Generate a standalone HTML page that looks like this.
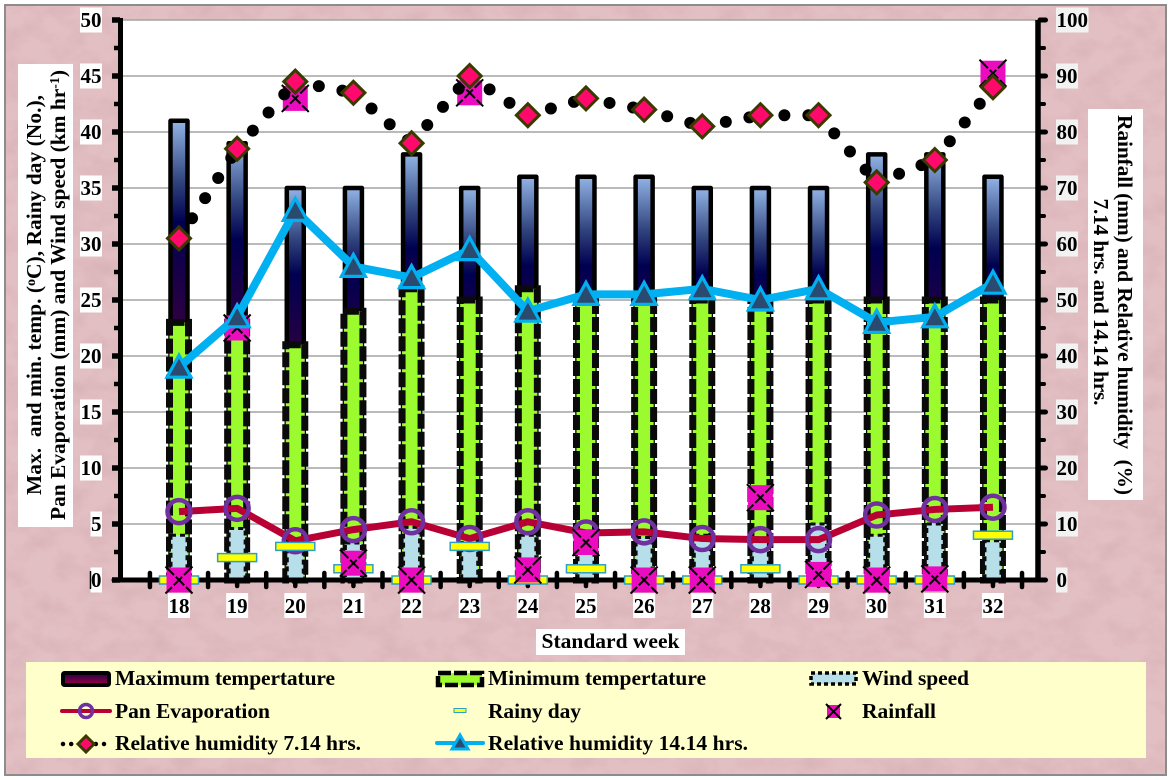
<!DOCTYPE html>
<html lang="en">
<head>
<meta charset="utf-8">
<title>Weather parameters by standard week</title>
<style>
html,body{margin:0;padding:0;background:#fff;}
svg{display:block;}
text{font-family:"Liberation Serif",serif;font-weight:bold;fill:#000;}
</style>
</head>
<body>
<svg id="chart" xmlns="http://www.w3.org/2000/svg" width="1170" height="780" viewBox="0 0 1170 780">
  <defs>
    <filter id="paper" x="0" y="0" width="100%" height="100%">
      <feTurbulence type="fractalNoise" baseFrequency="0.035 0.05" numOctaves="5" seed="7"/>
      <feColorMatrix type="matrix" values="0 0 0 0 0.66  0 0 0 0 0.42  0 0 0 0 0.45  1.3 0 0 0 -0.5"/>
    </filter>
    <linearGradient id="maxGrad" x1="0" y1="0" x2="0" y2="1">
      <stop offset="0" stop-color="#92b4e6"/>
      <stop offset="0.13" stop-color="#32457f"/>
      <stop offset="0.22" stop-color="#000050"/>
      <stop offset="0.45" stop-color="#300040"/>
      <stop offset="1" stop-color="#a00030"/>
    </linearGradient>
    <linearGradient id="legendMaxGrad" x1="0" y1="0" x2="0" y2="1">
      <stop offset="0" stop-color="#20004a"/>
      <stop offset="1" stop-color="#a00040"/>
    </linearGradient>
  </defs>

  <rect x="5" y="5" width="1161" height="770" fill="#e2bfc3" stroke="#8c8c8c" stroke-width="2"/>
  <rect x="6" y="6" width="1159" height="768" filter="url(#paper)"/>
  <rect x="121" y="20" width="915" height="560" fill="#fff"/>

  <g id="grid"></g>
  <g id="bars"></g>
  <g id="axes"></g>
  <g id="marks"></g>
  <g id="labels"></g>

  <g>
    <rect x="18" y="64" width="55" height="463" fill="#fff"/>
    <text transform="translate(41,295) rotate(-90)" text-anchor="middle" font-size="21.5" textLength="400" lengthAdjust="spacing" xml:space="preserve">Max.  and min. temp. (<tspan font-size="14" dy="-6">o</tspan><tspan dy="6">C), Rainy day (No.),</tspan></text>
    <text transform="translate(65,295) rotate(-90)" text-anchor="middle" font-size="21.5" textLength="450" lengthAdjust="spacing">Pan Evaporation (mm) and Wind speed (km hr<tspan font-size="14" dy="-6">-1</tspan><tspan dy="6">)</tspan></text>
  </g>
  <g>
    <rect x="1088" y="109" width="55" height="391" fill="#fff"/>
    <text transform="translate(1118,305) rotate(90)" text-anchor="middle" font-size="21.5" textLength="380" lengthAdjust="spacing" xml:space="preserve">Rainfall (mm) and Relative humidity  (%)</text>
    <text transform="translate(1094,302) rotate(90)" text-anchor="middle" font-size="21.5" textLength="207" lengthAdjust="spacing">7.14 hrs. and 14.14 hrs.</text>
  </g>

  <g>
    <rect x="536" y="629" width="149" height="26" fill="#fff"/>
    <text x="610.5" y="648" text-anchor="middle" font-size="21.5">Standard week</text>
  </g>

  <g>
    <rect x="26" y="662" width="1120" height="96" fill="#ffffcc"/>

    <g>
      <rect x="63" y="673" width="46" height="12" rx="1.5" fill="url(#legendMaxGrad)" stroke="#000" stroke-width="4"/>
      <text x="115" y="685" font-size="21.5" textLength="220" lengthAdjust="spacing">Maximum tempertature</text>
    </g>
    <g>
      <rect x="438" y="673" width="44" height="12" fill="#9bfb2f" stroke="#000" stroke-width="4.5" stroke-dasharray="13 3"/>
      <text x="488" y="685" font-size="21.5" textLength="218" lengthAdjust="spacing">Minimum tempertature</text>
    </g>
    <g>
      <rect x="811" y="673" width="45" height="11" fill="#b7dfea" stroke="#000" stroke-width="3.5" stroke-dasharray="4 3"/>
      <text x="862" y="685" font-size="21.5" textLength="107" lengthAdjust="spacing">Wind speed</text>
    </g>

    <g>
      <line x1="62" y1="711" x2="110" y2="711" stroke="#b80035" stroke-width="4" stroke-linecap="round"/>
      <circle cx="86" cy="711" r="6.5" fill="none" stroke="#7030a0" stroke-width="3.5"/>
      <text x="115" y="718" font-size="21.5" textLength="155" lengthAdjust="spacing">Pan Evaporation</text>
    </g>
    <g>
      <rect x="454" y="708.5" width="12" height="4" fill="#ffff00" stroke="#2aa0c8" stroke-width="1"/>
      <text x="488" y="718" font-size="21.5" textLength="93" lengthAdjust="spacing">Rainy day</text>
    </g>
    <g>
      <rect x="827" y="705" width="13" height="13" fill="#ec0cc0"/>
      <path d="M826 704L841 719M841 704L826 719" stroke="#000" stroke-width="2"/>
      <text x="862" y="718" font-size="21.5" textLength="74" lengthAdjust="spacing">Rainfall</text>
    </g>

    <g>
      <line x1="63" y1="744" x2="109" y2="744" stroke="#000" stroke-width="4.5" stroke-linecap="round" stroke-dasharray="0 8.2"/>
      <polygon points="86,736 94,744 86,752 78,744" fill="#ff0a6c" stroke="#3a3a00" stroke-width="3"/>
      <text x="115" y="750" font-size="21.5" textLength="246" lengthAdjust="spacing">Relative humidity 7.14 hrs.</text>
    </g>
    <g>
      <line x1="437" y1="743" x2="483" y2="743" stroke="#00b0f0" stroke-width="4" stroke-linecap="round"/>
      <polygon points="460,735 468,749 452,749" fill="#2a4a70" stroke="#00b0f0" stroke-width="3"/>
      <text x="488" y="750" font-size="21.5" textLength="260" lengthAdjust="spacing">Relative humidity 14.14 hrs.</text>
    </g>
  </g>
</svg>

<script>
const weeks = [18, 19, 20, 21, 22, 23, 24, 25, 26, 27, 28, 29, 30, 31, 32];
const maxTemp = [41, 39, 35, 35, 38, 35, 36, 36, 36, 35, 35, 35, 38, 38, 36];
const minTemp = [23, 23, 21, 24, 26, 25, 26, 25, 25, 25, 25, 25, 25, 25, 25];
const windSpeed = [4, 4.6, 2.8, 3.3, 4.7, 2.7, 4, 3.5, 3.8, 4, 3.5, 5, 4, 5, 3.5];
const panEvaporation = [6.1, 6.4, 3.5, 4.5, 5.2, 3.7, 5.2, 4.2, 4.3, 3.7, 3.6, 3.6, 5.8, 6.3, 6.5];
const rainyDay = [0, 2, 3, 1, 0, 3, 0, 1, 0, 0, 1, 0, 0, 0, 4];
const rainfall = [0, 45, 86, 3, 0, 87, 1.8, 6.7, 0, 0, 14.7, 1, 0, 0.2, 90.5];
const humidityMorning = [61, 77, 89, 87, 78, 90, 83, 86, 84, 81, 83, 83, 71, 75, 88];
const humidityAfternoon = [38, 47, 66, 56, 54, 59, 48, 51, 51, 52, 50, 52, 46, 47, 53];
const leftTicks = [0, 5, 10, 15, 20, 25, 30, 35, 40, 45, 50];
const rightTicks = [0, 10, 20, 30, 40, 50, 60, 70, 80, 90, 100];

const NS = 'http://www.w3.org/2000/svg';
const plotBottom = 580;
const plotTop = 20;
const firstX = 179;
const stepX = 58.14;
const xScale = i => firstX + stepX * i;
const yLeft = v => plotBottom - (plotBottom - plotTop) * v / 50;
const yRight = v => plotBottom - (plotBottom - plotTop) * v / 100;

function make(tag, attrs, parent) {
  const node = document.createElementNS(NS, tag);
  for (const k in attrs) node.setAttribute(k, attrs[k]);
  parent.appendChild(node);
  return node;
}

const gGrid = document.getElementById('grid');
const gBars = document.getElementById('bars');
const gAxes = document.getElementById('axes');
const gMarks = document.getElementById('marks');
const gLabels = document.getElementById('labels');

/* gridlines */
leftTicks.forEach(t => {
  if (t === 0) return;
  const g = make('line', {x1: 121, x2: 1036, y1: yLeft(t), y2: yLeft(t), stroke: '#a3a3a3', 'stroke-width': 1.5}, gGrid);
  
  
});

/* bars */
function barRect(value, halfWidth, attrs, name) {
  return function (i) {
    const x = xScale(i);
    const a = Object.assign({x: x - halfWidth, y: yLeft(value[i]), width: halfWidth * 2, height: plotBottom - yLeft(value[i])}, attrs);
    const r = make('rect', a, gBars);
    
    
  };
}
const drawMax = barRect(maxTemp, 8.5, {fill: 'url(#maxGrad)', stroke: '#000', 'stroke-width': 4.5, 'stroke-linejoin': 'round'}, 'bar-max-temp');
const drawMin = barRect(minTemp, 9.5, {fill: '#9bfb2f', stroke: '#0a0a0a', 'stroke-width': 7, 'stroke-dasharray': '15 3'}, 'bar-min-temp');
const drawWind = barRect(windSpeed, 8, {fill: '#b7dfea', stroke: '#0a0a0a', 'stroke-width': 3, 'stroke-dasharray': '5 4'}, 'bar-wind-speed');
weeks.forEach((w, i) => drawMax(i));
weeks.forEach((w, i) => drawMin(i));
weeks.forEach((w, i) => drawWind(i));

/* axes */
const axisLeft = make('line', {x1: 120.5, x2: 120.5, y1: plotTop - 2, y2: plotBottom + 2, stroke: '#000', 'stroke-width': 5}, gAxes);


const axisRight = make('line', {x1: 1038, x2: 1038, y1: plotTop, y2: plotBottom + 2, stroke: '#000', 'stroke-width': 5.5}, gAxes);


const axisBottom = make('line', {x1: 114, x2: 1045, y1: plotBottom, y2: plotBottom, stroke: '#000', 'stroke-width': 5, 'stroke-linecap': 'round'}, gAxes);



for (let k = 0; k <= 20; k++) {
  const y = plotBottom - (plotBottom - plotTop) * k / 20;
  const major = k % 2 === 0;
  const tl = make('line', {x1: major ? 112 : 114, x2: 120, y1: y, y2: y, stroke: '#000', 'stroke-width': major ? 5.5 : 4.5}, gAxes);
  
  
  const tr = make('line', {x1: 1040, x2: major ? 1045.5 : 1044, y1: y, y2: y, stroke: '#000', 'stroke-width': major ? 5 : 4, 'stroke-linecap': 'round'}, gAxes);
  
  
}
for (let i = 0; i <= weeks.length; i++) {
  const edge = xScale(i) - stepX / 2;
  const t = make('line', {x1: edge, x2: edge, y1: 573, y2: 587, stroke: '#000', 'stroke-width': 4.5, 'stroke-linecap': 'round'}, gAxes);
  
  
}
weeks.forEach((w, i) => {
  const t = make('line', {x1: xScale(i), x2: xScale(i), y1: 580, y2: 586, stroke: '#000', 'stroke-width': 4.5, 'stroke-linecap': 'round'}, gAxes);
  
  
});

/* pan evaporation */
const panPoints = panEvaporation.map((v, i) => xScale(i) + ',' + yLeft(v)).join(' ');
const panLine = make('polyline', {points: panPoints, fill: 'none', stroke: '#b80035', 'stroke-width': 7, 'stroke-linejoin': 'round'}, gMarks);


panEvaporation.forEach((v, i) => {
  const c = make('circle', {cx: xScale(i), cy: yLeft(v), r: 11.5, fill: 'none', stroke: '#7030a0', 'stroke-width': 4.5}, gMarks);
  
  
});

/* rainy days */
rainyDay.forEach((v, i) => {
  const r = make('rect', {x: xScale(i) - 19.5, y: yLeft(v) - 4, width: 39, height: 8, fill: '#ffff00', stroke: '#2aa0c8', 'stroke-width': 1.5}, gMarks);
  
  
});

/* rainfall */
rainfall.forEach((v, i) => {
  const x = xScale(i), y = yRight(v), h = 12.5;
  const r = make('rect', {x: x - h, y: y - h, width: h * 2, height: h * 2, fill: '#ec0cc0'}, gMarks);
  
  
  const d = 'M' + (x - h - 1) + ' ' + (y - h - 1) + 'L' + (x + h + 1) + ' ' + (y + h + 1) +
            'M' + (x + h + 1) + ' ' + (y - h - 1) + 'L' + (x - h - 1) + ' ' + (y + h + 1);
  const cross = make('path', {d: d, stroke: '#000', 'stroke-width': 2, 'stroke-dasharray': '12 2.5', fill: 'none'}, gMarks);
  
  
});

/* relative humidity 7.14: the dot pattern restarts at every point */
humidityMorning.forEach((v, i) => {
  if (i === 0) return;
  const seg = make('line', {x1: xScale(i - 1), y1: yRight(humidityMorning[i - 1]), x2: xScale(i), y2: yRight(v), stroke: '#000', 'stroke-width': 12, 'stroke-linecap': 'round', 'stroke-dasharray': '0 24'}, gMarks);
  
  
});
humidityMorning.forEach((v, i) => {
  const x = xScale(i), y = yRight(v), h = 11.5;
  const pts = x + ',' + (y - h) + ' ' + (x + h) + ',' + y + ' ' + x + ',' + (y + h) + ' ' + (x - h) + ',' + y;
  const p = make('polygon', {points: pts, fill: '#ff0a6c', stroke: '#3a3a00', 'stroke-width': 3}, gMarks);
  
  
});

/* relative humidity 14.14 */
const afternoonPoints = humidityAfternoon.map((v, i) => xScale(i) + ',' + yRight(v)).join(' ');
const afternoonLine = make('polyline', {points: afternoonPoints, fill: 'none', stroke: '#00b0f0', 'stroke-width': 8, 'stroke-linejoin': 'round'}, gMarks);


humidityAfternoon.forEach((v, i) => {
  const x = xScale(i), y = yRight(v);
  const pts = x + ',' + (y - 12) + ' ' + (x + 12) + ',' + (y + 10) + ' ' + (x - 12) + ',' + (y + 10);
  const p = make('polygon', {points: pts, fill: '#2a4a70', stroke: '#00b0f0', 'stroke-width': 3.2}, gMarks);
  
  
});

/* tick labels */
leftTicks.forEach(t => {
  const s = String(t);
  const w = s.length * 10.5 + 1;
  const bg = make('rect', {x: 102 - w, y: yLeft(t) - 12.5, width: w, height: 25, fill: '#fff'}, gLabels);
  
  
  const tx = make('text', {x: 101.5, y: yLeft(t) + 7, 'text-anchor': 'end', 'font-size': 21}, gLabels);
  
  
  tx.textContent = s;
});
const zeroMark = make('line', {x1: 90.5, x2: 90.5, y1: yLeft(0) - 9, y2: yLeft(0) + 9, stroke: '#000', 'stroke-width': 1.5}, gLabels);


rightTicks.forEach(t => {
  const s = String(t);
  const w = s.length * 10.5 + 1;
  const bg = make('rect', {x: 1056, y: yRight(t) - 12.5, width: w, height: 25, fill: '#f2f2f2'}, gLabels);
  
  
  const tx = make('text', {x: 1056.5, y: yRight(t) + 7, 'font-size': 21}, gLabels);
  
  
  tx.textContent = s;
});
weeks.forEach((w, i) => {
  const bg = make('rect', {x: xScale(i) - 11, y: 593, width: 22, height: 25, fill: '#fff'}, gLabels);
  
  
  const tx = make('text', {x: xScale(i), y: 613, 'text-anchor': 'middle', 'font-size': 21}, gLabels);
  
  
  tx.textContent = String(w);
});
</script>
</body>
</html>
